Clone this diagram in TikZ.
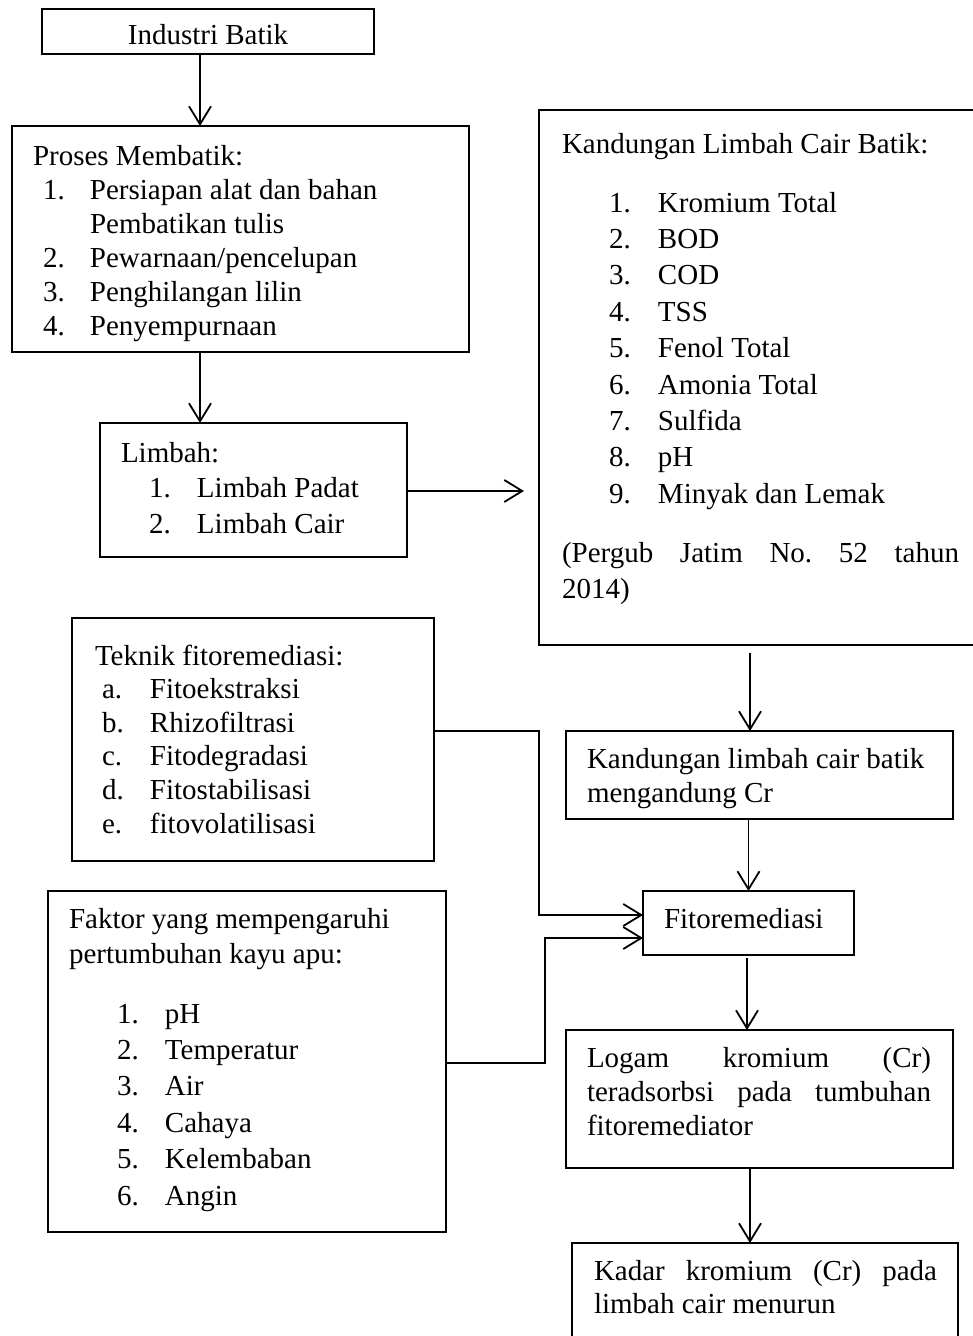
\documentclass[tikz,border=0pt]{standalone}
\usepackage{fontspec}
\setmainfont{Liberation Serif}
\usetikzlibrary{arrows.meta}
\frenchspacing
% numbered list entry: indent, label width, label, text
\newcommand\itm[4]{\hspace*{#1}\makebox[#2][l]{#3}#4}
\begin{document}
\begin{tikzpicture}[x=1pt,y=-1pt,
  box/.style={draw, line width=2pt, anchor=north west, inner sep=0pt, outer sep=0pt},
  txt/.style={anchor=base west, inner sep=0pt, outer sep=0pt},
  arr/.style={line width=1.8pt, -{Straight Barb[length=18pt,width=22pt,line width=1.8pt]}},
  link/.style={line width=1.8pt}]
\useasboundingbox (0,0) rectangle (973,1336);
\clip (0,0) rectangle (973,1336);

% ---------- boxes ----------
\node[box, minimum width=332pt, minimum height=45pt]  (industri) at (42,9) {};
\node[box, minimum width=457pt, minimum height=226pt] (proses)   at (12,126) {};
\node[box, minimum width=307pt, minimum height=134pt] (limbah)   at (100,423) {};
\node[box, minimum width=440pt, minimum height=535pt] (kand)     at (539,110) {};
\node[box, minimum width=387pt, minimum height=88pt]  (cr)       at (566,731) {};
\node[box, minimum width=211pt, minimum height=64pt]  (fito)     at (643,891) {};
\node[box, minimum width=362pt, minimum height=243pt] (teknik)   at (72,618) {};
\node[box, minimum width=398pt, minimum height=341pt] (faktor)   at (48,891) {};
\node[box, minimum width=387pt, minimum height=138pt] (logam)    at (566,1030) {};
\node[box, minimum width=386pt, minimum height=120pt] (kadar)    at (572,1243) {};

% ---------- texts ----------
\node[txt, anchor=base, font=\fontsize{29}{34}\selectfont] (industri-t) at (208,44) {Industri Batik};

\node[txt, font=\fontsize{29}{34}\selectfont] (proses-t) at (33,165) {\begin{tabular}[t]{@{}l@{}}
Proses Membatik:\\
\itm{10pt}{47pt}{1.}{Persiapan alat dan bahan}\\
\hspace*{57pt}Pembatikan tulis\\
\itm{10pt}{47pt}{2.}{Pewarnaan/pencelupan}\\
\itm{10pt}{47pt}{3.}{Penghilangan lilin}\\
\itm{10pt}{47pt}{4.}{Penyempurnaan}
\end{tabular}};

\node[txt, font=\fontsize{29}{35.5}\selectfont] (limbah-t) at (121,462) {\begin{tabular}[t]{@{}l@{}}
Limbah:\\
\itm{28pt}{48pt}{1.}{Limbah Padat}\\
\itm{28pt}{48pt}{2.}{Limbah Cair}
\end{tabular}};

\node[txt, font=\fontsize{29}{36.4}\selectfont] (kand-t) at (562,153) {\begin{tabular}[t]{@{}l@{}}
Kandungan Limbah Cair Batik:\\[22.6pt]
\itm{47pt}{49pt}{1.}{Kromium Total}\\
\itm{47pt}{49pt}{2.}{BOD}\\
\itm{47pt}{49pt}{3.}{COD}\\
\itm{47pt}{49pt}{4.}{TSS}\\
\itm{47pt}{49pt}{5.}{Fenol Total}\\
\itm{47pt}{49pt}{6.}{Amonia Total}\\
\itm{47pt}{49pt}{7.}{Sulfida}\\
\itm{47pt}{49pt}{8.}{pH}\\
\itm{47pt}{49pt}{9.}{Minyak dan Lemak}\\[22.4pt]
\makebox[397pt][s]{(Pergub Jatim No. 52 tahun}\\
2014)
\end{tabular}};

\node[txt, font=\fontsize{29}{34}\selectfont] (cr-t) at (587,768) {\begin{tabular}[t]{@{}l@{}}
Kandungan limbah cair batik\\
mengandung Cr
\end{tabular}};

\node[txt, font=\fontsize{29}{34}\selectfont] (fito-t) at (664,928) {Fitoremediasi};

\node[txt, font=\fontsize{29}{33.6}\selectfont] (teknik-t) at (95,665) {\begin{tabular}[t]{@{}l@{}}
Teknik fitoremediasi:\\
\itm{7pt}{48pt}{a.}{Fitoekstraksi}\\
\itm{7pt}{48pt}{b.}{Rhizofiltrasi}\\
\itm{7pt}{48pt}{c.}{Fitodegradasi}\\
\itm{7pt}{48pt}{d.}{Fitostabilisasi}\\
\itm{7pt}{48pt}{e.}{fitovolatilisasi}
\end{tabular}};

\node[txt, font=\fontsize{29}{36.4}\selectfont] (faktor-t) at (69,928) {\begin{tabular}[t]{@{}l@{}}
Faktor yang mempengaruhi\\[-1.4pt]
pertumbuhan kayu apu:\\[23.6pt]
\itm{48pt}{48pt}{1.}{pH}\\
\itm{48pt}{48pt}{2.}{Temperatur}\\
\itm{48pt}{48pt}{3.}{Air}\\
\itm{48pt}{48pt}{4.}{Cahaya}\\
\itm{48pt}{48pt}{5.}{Kelembaban}\\
\itm{48pt}{48pt}{6.}{Angin}
\end{tabular}};

\node[txt, font=\fontsize{29}{34}\selectfont] (logam-t) at (587,1067) {\begin{tabular}[t]{@{}l@{}}
\makebox[344pt][s]{Logam kromium (Cr)}\\
\makebox[344pt][s]{teradsorbsi pada tumbuhan}\\
fitoremediator
\end{tabular}};

\node[txt, font=\fontsize{29}{33}\selectfont] (kadar-t) at (594,1280) {\begin{tabular}[t]{@{}l@{}}
\makebox[343pt][s]{Kadar kromium (Cr) pada}\\
limbah cair menurun
\end{tabular}};

% ---------- connectors ----------
\draw[arr] ([xshift=-8pt]industri.south) -- ([xshift=-8pt]industri.south |- proses.north);
\draw[arr] ([xshift=-40.5pt]proses.south) -- ([xshift=-40.5pt]proses.south |- limbah.north);
\draw[arr, shorten >=15pt] ([yshift=-1pt]limbah.east) -- ([yshift=-1pt]limbah.east -| kand.west);
\draw[arr, shorten <=8pt] ([xshift=-9.5pt]cr.north |- kand.south) -- ([xshift=-9.5pt]cr.north);
\draw[arr] (fito.north |- cr.south) -- (fito.north);
\draw[arr, shorten <=3pt] ([xshift=-1.5pt]fito.south) -- ([xshift=-1.5pt]fito.south |- logam.north);
\draw[arr] ([xshift=-9.5pt]logam.south) -- ([xshift=-9.5pt]logam.south |- kadar.north);
\draw[arr] ([yshift=8.5pt]teknik.east) -- ++(105,0) |- ([yshift=8pt]fito.west);
\draw[arr] ([yshift=-1.5pt]faktor.east) -- ++(99,0) |- ([yshift=-15pt]fito.west);
\end{tikzpicture}
\end{document}
